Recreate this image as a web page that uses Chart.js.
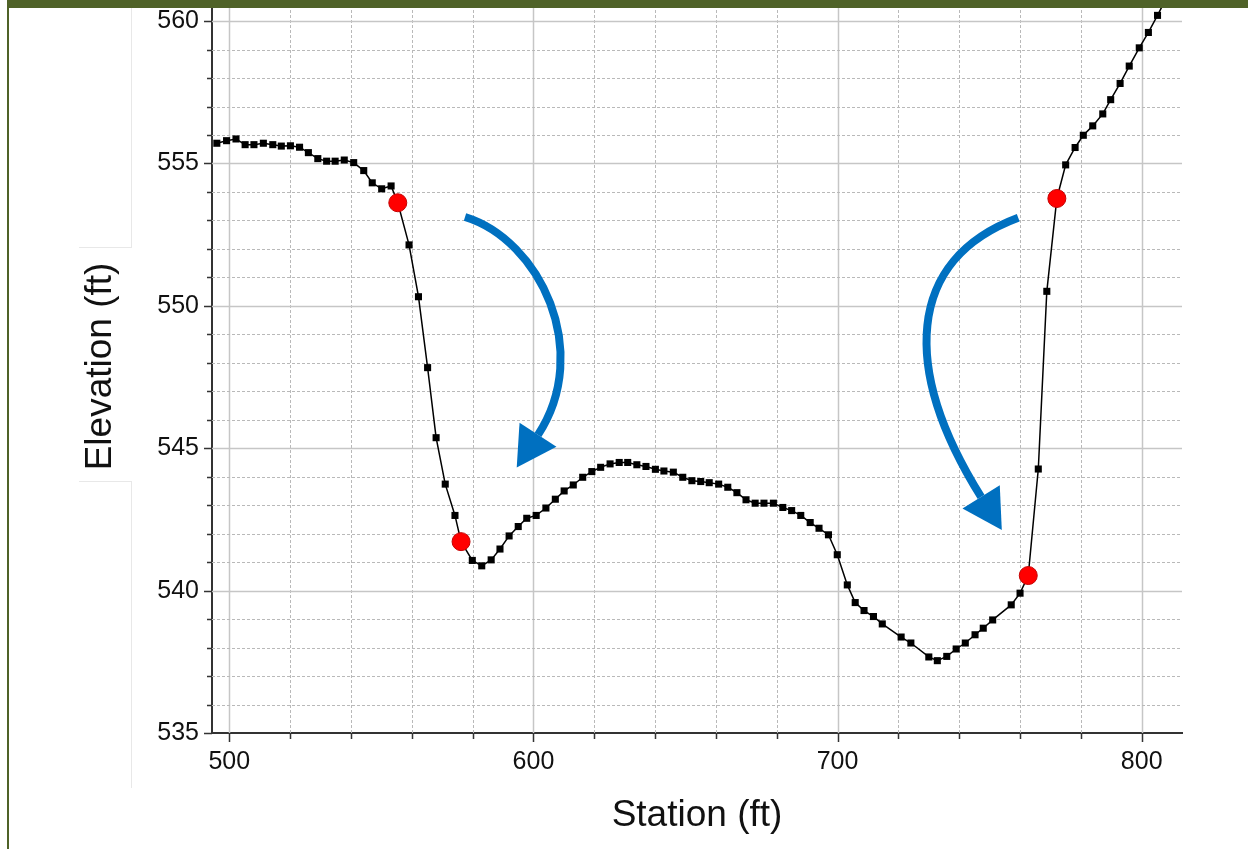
<!DOCTYPE html>
<html>
<head>
<meta charset="utf-8">
<title>Cross section</title>
<script src="https://cdn.jsdelivr.net/npm/chart.js@4.4.0/dist/chart.umd.min.js"></script>
<style>
  html, body { margin: 0; padding: 0; background: #fff; }
  #wrap { position: relative; width: 1248px; height: 849px; overflow: hidden; }
  #myChart { position: absolute; left: 0; top: 0; }
  .frame { position: absolute; background: #4f6228; }
  .pane { position: absolute; background: #e8e8e8; }
</style>
</head>
<body>
<div id="wrap">
  <canvas id="myChart" width="1248" height="849"></canvas>
  <div class="pane" style="left:131px;top:8px;width:1px;height:239px"></div>
  <div class="pane" style="left:79px;top:247px;width:53px;height:1px"></div>
  <div class="pane" style="left:79px;top:481px;width:53px;height:1px"></div>
  <div class="pane" style="left:131px;top:481px;width:1px;height:307px"></div>
  <div class="frame" style="left:7px;top:0;width:1241px;height:8px"></div>
  <div class="frame" style="left:7px;top:0;width:2px;height:849px"></div>
</div>
<script>
'use strict'

// surveyed ground points of the cross section (ft)
const station = [
  495.9, 499.1, 502.2, 505.2, 508.1, 511.2, 514.3, 517.1, 520.1, 523.1,
  526.0, 529.1, 532.0, 534.8, 537.8, 540.9, 544.2, 547.0, 550.1, 553.2,
  555.4, 559.1, 562.2, 565.2, 568.0, 571.0, 574.2, 576.2, 579.9, 583.0,
  586.1, 589.0, 592.0, 595.0, 597.8, 600.9, 604.1, 607.2, 610.1, 613.1,
  616.2, 619.2, 622.1, 625.2, 628.2, 631.0, 634.0, 637.0, 640.1, 642.9,
  646.0, 649.1, 652.1, 655.0, 657.8, 660.9, 663.9, 666.9, 669.9, 672.9,
  675.8, 678.9, 682.0, 684.9, 687.9, 691.0, 693.9, 697.0, 699.9, 703.2,
  705.8, 708.7, 711.8, 714.7, 720.9, 724.1, 730.0, 732.8, 735.9, 739.0,
  742.0, 745.2, 747.9, 751.0, 757.1, 760.0, 762.7, 766.0, 768.8, 772.1,
  775.0, 778.1, 780.8, 783.9, 787.2, 789.8, 792.9, 795.9, 799.2, 802.2,
  805.2, 808.3
];
const elevation = [
  555.71, 555.80, 555.86, 555.66, 555.66, 555.71, 555.66, 555.61, 555.62, 555.57,
  555.38, 555.17, 555.08, 555.08, 555.12, 555.03, 554.75, 554.32, 554.11, 554.21,
  553.62, 552.14, 550.32, 547.83, 545.37, 543.74, 542.64, 541.72, 541.06, 540.87,
  541.08, 541.46, 541.92, 542.25, 542.54, 542.64, 542.90, 543.21, 543.50, 543.71,
  543.98, 544.18, 544.33, 544.45, 544.50, 544.50, 544.42, 544.36, 544.26, 544.20,
  544.16, 543.98, 543.86, 543.83, 543.79, 543.74, 543.63, 543.44, 543.19, 543.07,
  543.07, 543.07, 542.92, 542.81, 542.64, 542.39, 542.19, 541.96, 541.26, 540.20,
  539.58, 539.30, 539.09, 538.83, 538.37, 538.16, 537.67, 537.54, 537.69, 537.95,
  538.16, 538.45, 538.68, 538.97, 539.50, 539.91, 540.53, 544.27, 550.51, 553.77,
  554.95, 555.56, 555.99, 556.32, 556.74, 557.24, 557.81, 558.42, 559.06, 559.60,
  560.20, 560.85
];

// index (in the ground arrays) of the bank points shown in red
const bankIdx = [20, 27, 86, 89];

// labelled ticks and grid spacing
const xTicks = [500, 600, 700, 800];
const yTicks = [535, 540, 545, 550, 555, 560];
const xGridStep = 20;
const yGridStep = 1;

// flow arrows, as [station, elevation]:
// start, control 1, control 2, end of shaft, tip of the head
const arrowLeft = [[577.5, 553.12], [602.2, 552.31], [619.5, 548.41], [601.5, 545.47], [594.5, 544.32]];
const arrowRight = [[759.4, 553.09], [722.2, 551.61], [721.0, 547.77], [747.2, 543.29], [754.0, 542.13]];

const ground = station.map((s, i) => ({x: s, y: elevation[i]}));
const banks = bankIdx.map(i => ({x: station[i], y: elevation[i]}));

const tickFont = {family: "'Liberation Sans', Arial, sans-serif", size: 25};
const titleFont = {family: "'Liberation Sans', Arial, sans-serif", size: 37, lineHeight: 1.2};

function gridLine(ctx, x1, y1, x2, y2, major) {
  ctx.beginPath();
  ctx.setLineDash(major ? [] : [3, 2]);
  ctx.strokeStyle = major ? '#c6c6c6' : '#b9b9b9';
  ctx.lineWidth = major ? 1.5 : 1;
  ctx.moveTo(x1, y1);
  ctx.lineTo(x2, y2);
  ctx.stroke();
}

// solid lines on labelled values, dashed in between, plus minor tick marks
const sectionGrid = {
  id: 'sectionGrid',
  beforeDatasetsDraw(chart) {
    const {ctx, chartArea: a, scales: {x, y}} = chart;
    const xs = [], ys = [];
    for (let v = Math.ceil(x.min / xGridStep) * xGridStep; v <= x.max; v += xGridStep) xs.push(v);
    for (let v = Math.ceil(y.min / yGridStep) * yGridStep; v <= y.max; v += yGridStep) ys.push(v);

    ctx.save();
    xs.forEach(v => {
      const px = Math.round(x.getPixelForValue(v)) + 0.5;
      gridLine(ctx, px, a.top, px, a.bottom, xTicks.includes(v));
    });
    ys.forEach(v => {
      if (v === y.min) return;
      const py = Math.round(y.getPixelForValue(v)) + 0.5;
      gridLine(ctx, a.left, py, a.right, py, yTicks.includes(v));
    });

    ctx.setLineDash([]);
    ctx.strokeStyle = '#333';
    ctx.lineWidth = 1.5;
    ctx.beginPath();
    xs.forEach(v => {
      const px = Math.round(x.getPixelForValue(v)) + 0.5;
      ctx.moveTo(px, a.bottom);
      ctx.lineTo(px, a.bottom + (xTicks.includes(v) ? 9 : 6));
    });
    ys.forEach(v => {
      const py = Math.round(y.getPixelForValue(v)) + 0.5;
      ctx.moveTo(a.left, py);
      ctx.lineTo(a.left - (yTicks.includes(v) ? 8 : 5), py);
    });
    ctx.stroke();
    ctx.restore();
  }
};

// curved blue arrows from each bank top towards the channel
const flowArrows = {
  id: 'flowArrows',
  afterDatasetsDraw(chart) {
    const {ctx, scales: {x, y}} = chart;
    [arrowLeft, arrowRight].forEach(arr => {
      const p = arr.map(([s, e]) => [x.getPixelForValue(s), y.getPixelForValue(e)]);
      ctx.save();
      ctx.strokeStyle = '#0070c0';
      ctx.fillStyle = '#0070c0';
      ctx.lineWidth = 8;
      ctx.beginPath();
      ctx.moveTo(p[0][0], p[0][1]);
      ctx.bezierCurveTo(p[1][0], p[1][1], p[2][0], p[2][1], p[3][0], p[3][1]);
      ctx.stroke();

      const [bx, by] = p[3];
      const [tx, ty] = p[4];
      const len = Math.hypot(tx - bx, ty - by);
      const nx = -(ty - by) / len * 22;
      const ny = (tx - bx) / len * 22;
      ctx.beginPath();
      ctx.moveTo(bx + nx, by + ny);
      ctx.lineTo(tx, ty);
      ctx.lineTo(bx - nx, by - ny);
      ctx.closePath();
      ctx.fill();
      ctx.restore();
    });
  }
};

let ctx = document.getElementById('myChart');

new Chart(ctx, {
  type: 'scatter',
  data: {
    datasets: [{
      label: 'Bank Sta',
      data: banks,
      showLine: false,
      pointStyle: 'circle',
      pointRadius: 9,
      pointBackgroundColor: '#ff0000',
      pointBorderColor: '#c40000',
      pointBorderWidth: 1
    }, {
      label: 'Ground',
      data: ground,
      showLine: true,
      borderColor: '#000',
      borderWidth: 1.5,
      tension: 0,
      pointStyle: 'rect',
      pointRadius: 5,
      pointBackgroundColor: '#000',
      pointBorderWidth: 0
    }]
  },
  options: {
    responsive: false,
    animation: false,
    events: [],
    layout: {autoPadding: false, padding: {left: 0, top: 0, right: 66, bottom: 0}},
    plugins: {
      legend: {display: false},
      tooltip: {enabled: false}
    },
    scales: {
      x: {
        type: 'linear',
        min: 494.31,
        max: 813.25,
        afterBuildTicks: s => { s.ticks = xTicks.map(v => ({value: v})); },
        afterFit: s => { s.height = 116; s.paddingLeft = 0; s.paddingRight = 0; },
        ticks: {padding: 6, maxRotation: 0, autoSkip: false, color: '#111', font: tickFont},
        grid: {drawOnChartArea: false, color: 'transparent', tickLength: 8},
        border: {display: true, color: '#333', width: 2},
        title: {display: true, text: 'Station (ft)', color: '#111', font: titleFont, padding: {top: 0, bottom: 11}}
      },
      y: {
        type: 'linear',
        min: 535,
        max: 560.74,
        afterBuildTicks: s => { s.ticks = yTicks.map(v => ({value: v})); },
        afterFit: s => { s.width = 212; s.paddingTop = 0; s.paddingBottom = 0; },
        ticks: {padding: 5, autoSkip: false, color: '#111', font: tickFont},
        grid: {drawOnChartArea: false, color: 'transparent', tickLength: 8},
        border: {display: true, color: '#333', width: 2},
        title: {display: true, text: 'Elevation (ft)', color: '#111', font: titleFont, padding: {top: 79, bottom: 0}}
      }
    }
  },
  plugins: [sectionGrid, flowArrows]
});
</script>
</body>
</html>
